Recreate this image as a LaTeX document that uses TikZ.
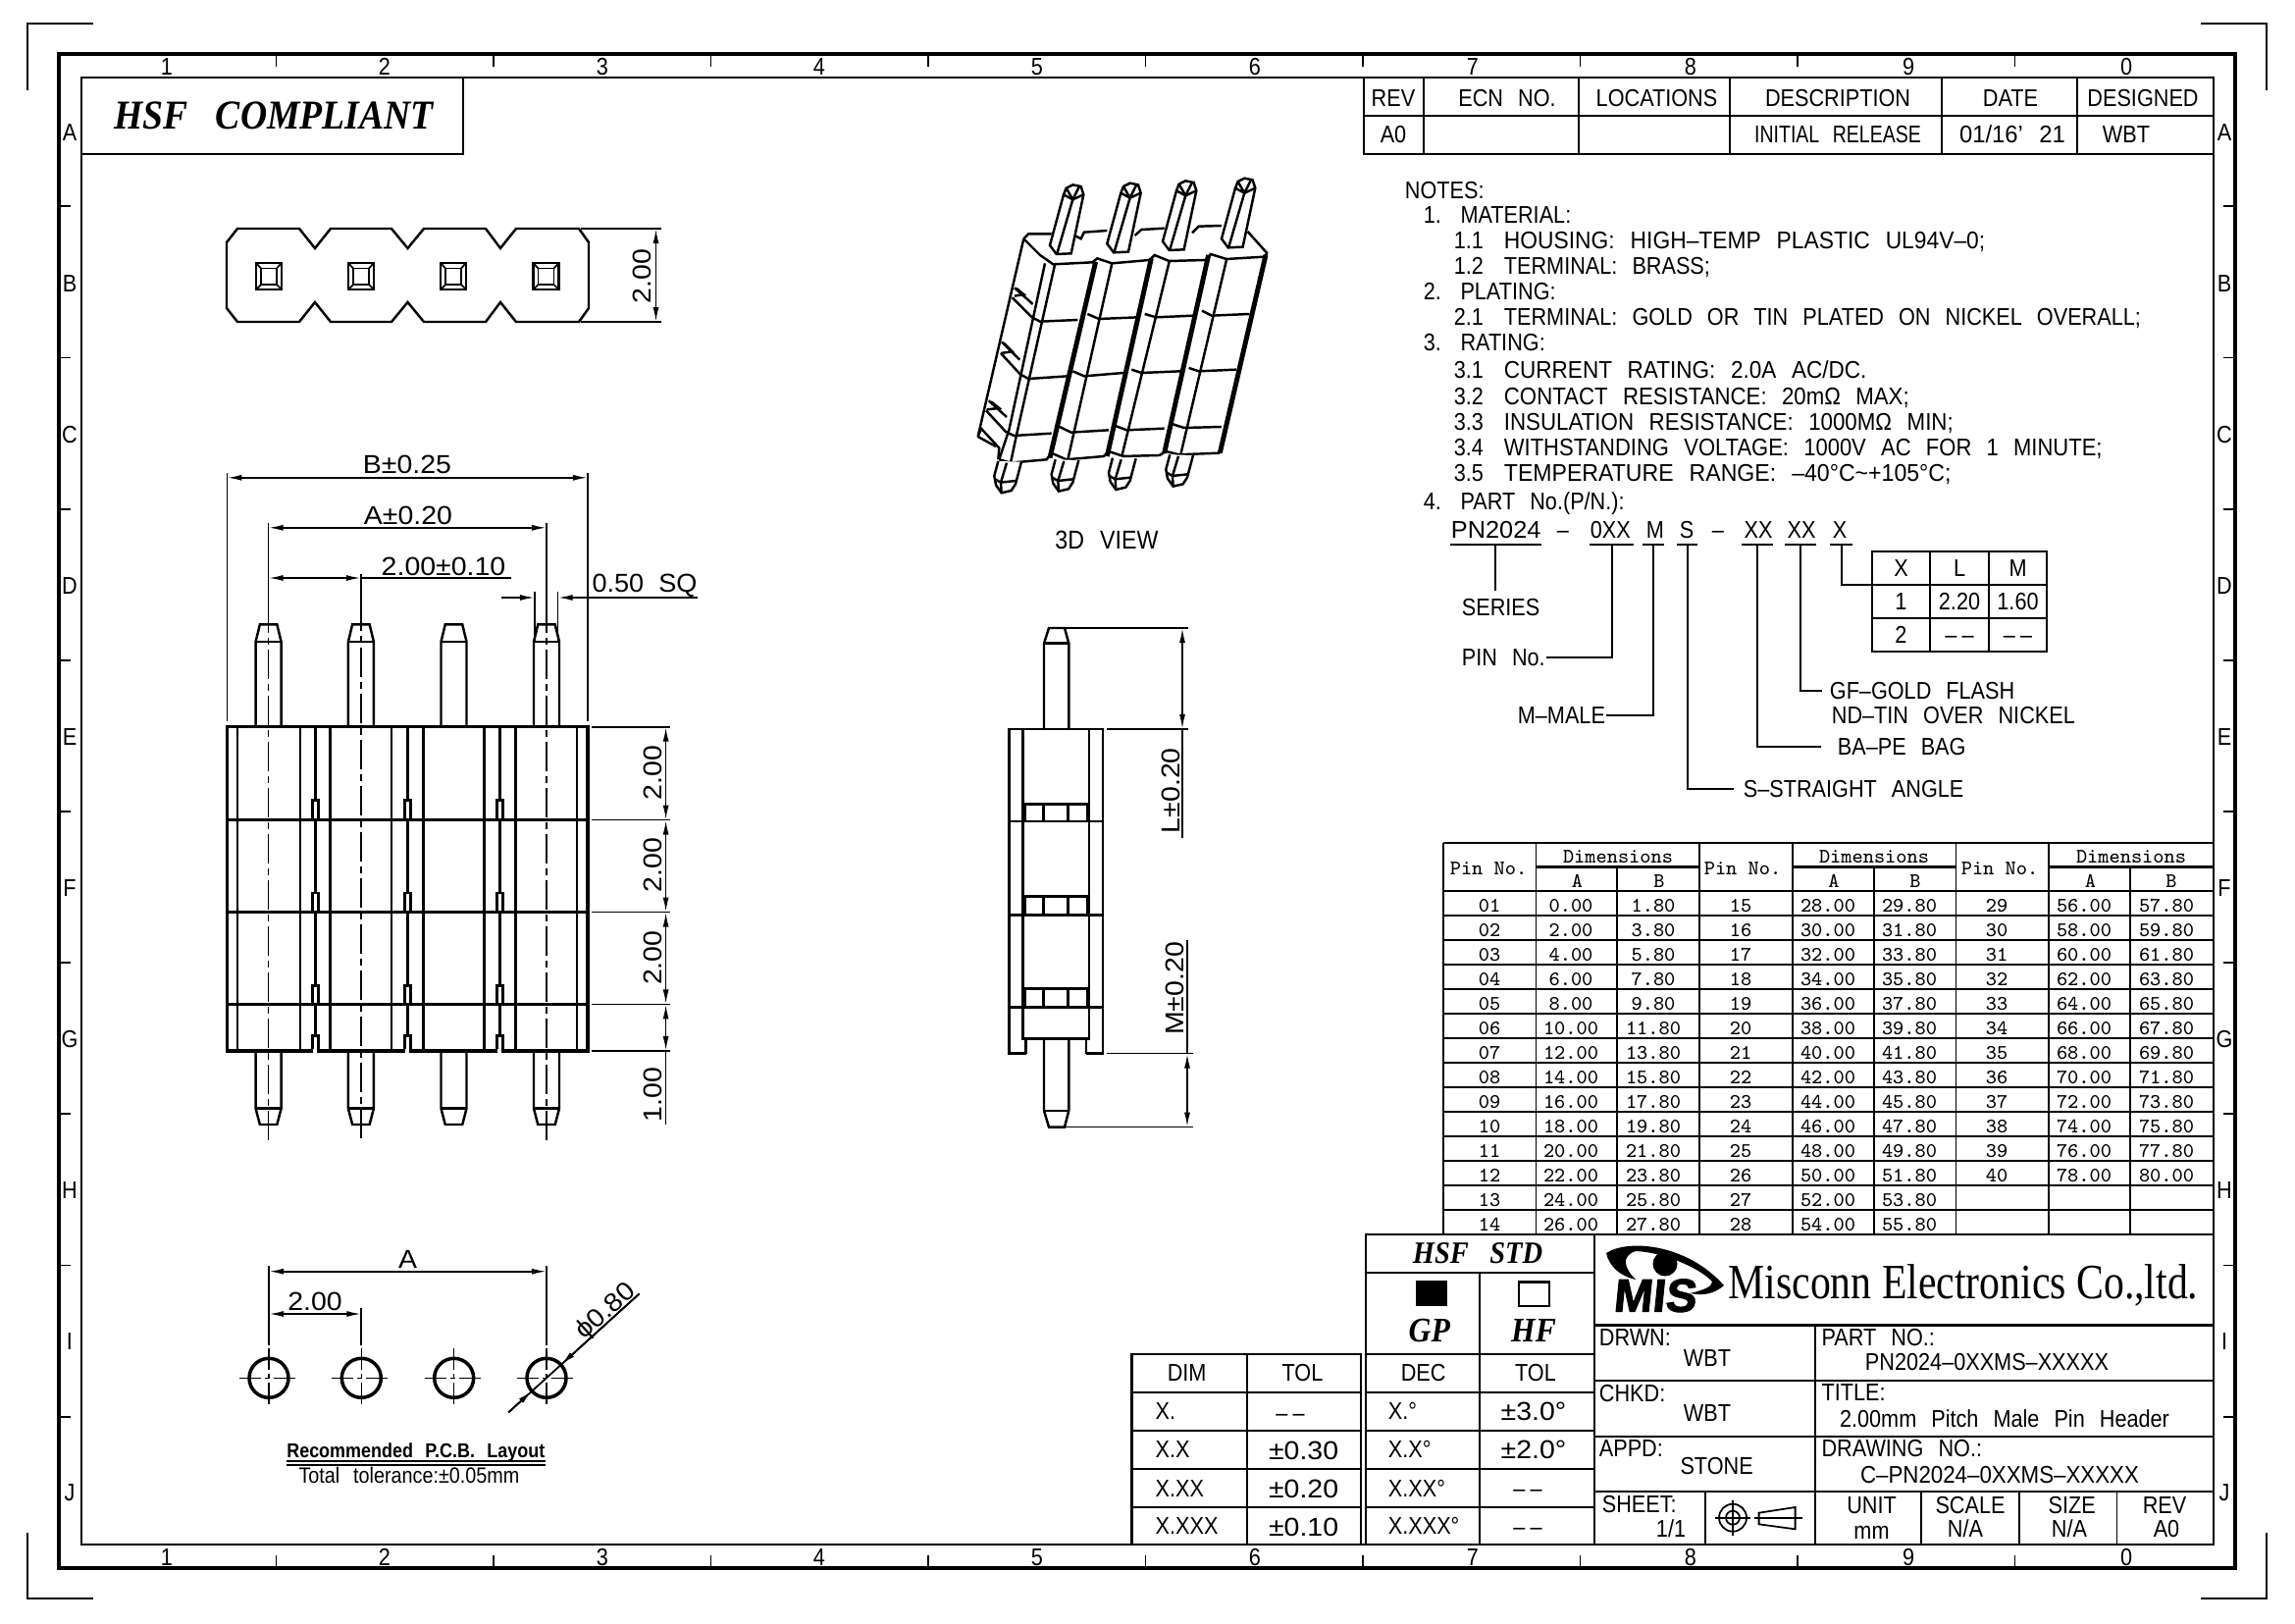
\documentclass[tikz,border=0pt]{standalone}
\usepackage{fontspec}
\usetikzlibrary{arrows.meta}
\setmainfont[FakeStretch=.88,WordSpace=2.5]{Liberation Sans}
\newfontfamily\dimfont[FakeStretch=1.08,WordSpace=2]{Liberation Sans}
\newfontfamily\hsffont[FakeStretch=.9,WordSpace=3]{Liberation Serif}
\newfontfamily\compfont[FakeStretch=.83]{Liberation Serif}
\newfontfamily\logofont[BoldFeatures={FakeBold=2,FakeSlant=.1}]{Liberation Sans}
\tikzset{>={Latex[length=1.5mm,width=.6mm]}}
\newcommand{\numbox}[2]{\makebox[#1][l]{#2}}
\newcommand{\wide}[2]{\scalebox{#1}[1]{#2}}
\newcommand{\nodash}{–\kern1.5pt–}

\begin{document}
\begin{tikzpicture}[
    x = .01cm,
    y = -.01cm,
    line width = .5pt,
    every node/.style = {inner sep = 0pt},
    txt/.style = {font = \fontsize{7}{8}\selectfont, text height = 5pt, text depth = 0pt},
    lefttxt/.style = {txt, anchor = west},
    dimtxt/.style = {font = \dimfont\fontsize{7.5}{9}\selectfont, text height = 5.4pt, text depth = 0pt},
    hsftxt/.style = {font = \hsffont\bfseries\itshape\fontsize{9}{10}\selectfont, text height = 6pt, text depth = 0pt},
    cellnum/.style = {font = \ttfamily\fontsize{6}{7}\selectfont, text height = 3.7pt, text depth = 0pt},
    outerframe/.style = {line width = 1.1pt},
    innerframe/.style = {line width = .8pt},
    body/.style = {line width = .7pt},
    heavy/.style = {line width = 1.4pt},
    rowline/.style = {line width = .8pt},
    centermark/.style = {line width = .4pt, dash pattern = on .3cm off .05cm on .07cm off .05cm},
    holemark/.style = {line width = .4pt, dash pattern = on .22cm off .04cm on .05cm off .04cm on .22cm}
  ]
    \useasboundingbox[fill = white] (0, 0) rectangle (2339, 1654);

    % sheet frame
    \draw[outerframe] (60, 55) rectangle (2278, 1598);
    \draw[innerframe] (83, 79) rectangle (2256, 1574);
    \draw (28, 92) -- (28, 24) -- (95, 24);
    \draw (2243, 24) -- (2310, 24) -- (2310, 92);
    \draw (28, 1562) -- (28, 1629) -- (95, 1629);
    \draw (2310, 1562) -- (2310, 1629) -- (2243, 1629);
    \foreach \tickx in {281.5, 503, 724.5, 946, 1167.5, 1389, 1610.5, 1832, 2053.5} {
      \draw (\tickx, 55) -- (\tickx, 68);
      \draw (\tickx, 1585) -- (\tickx, 1598);
    }
    \foreach \ticky in {210, 364.5, 518.7, 673, 827, 981, 1135, 1289.5, 1444} {
      \draw (60, \ticky) -- (72, \ticky);
      \draw (2266, \ticky) -- (2278, \ticky);
    }
    \foreach \collabel/\colx in {1/170, 2/392, 3/614, 4/835, 5/1057, 6/1279, 7/1501, 8/1723, 9/1945, 0/2167} {
      \node[txt] (top_col\collabel) at (\colx, 68) {\collabel};
      \node[txt] (bot_col\collabel) at (\colx, 1587) {\collabel};
    }
    \foreach \rowlabel/\rowy in {A/135, B/289, C/443, D/597, E/751, F/905, G/1059, H/1213, I/1367, J/1521} {
      \node[txt] (left_row\rowlabel) at (71, \rowy) {\rowlabel};
      \node[txt] (right_row\rowlabel) at (2267, \rowy) {\rowlabel};
    }

    % compliance box
    \draw[innerframe] (83, 157) -- (472, 157) -- (472, 79);
    \node[hsftxt, font = \hsffont\bfseries\itshape\fontsize{11.9}{13}\selectfont, text height = 7.7pt] (hsf_compliant) at (279, 118) {HSF COMPLIANT};

    % top view
    \draw[body] (242, 233) -- (305, 233) -- (321, 253) -- (337, 233) -- (399, 233) -- (415.5, 253) -- (432, 233) -- (495, 233) -- (510, 253) -- (526, 233) -- (590, 233) -- (600, 247) -- (600, 314) -- (590, 328) -- (526, 328) -- (510, 308) -- (495, 328) -- (432, 328) -- (415.5, 308) -- (399, 328) -- (337, 328) -- (321, 308) -- (305, 328) -- (242, 328) -- (231, 314) -- (231, 247) -- cycle;
    \foreach \pinx in {274, 368, 462, 556.5} {
      \draw[body] (\pinx-13, 268) rectangle (\pinx+13, 295);
      \draw (\pinx-8, 273.5) rectangle (\pinx+8, 290);
      \draw (\pinx-13, 268) -- (\pinx-8, 273.5) (\pinx+13, 268) -- (\pinx+8, 273.5) (\pinx-13, 295) -- (\pinx-8, 290) (\pinx+13, 295) -- (\pinx+8, 290);
    }
    \draw (592, 233) -- (674, 233);
    \draw (592, 328) -- (674, 328);
    \draw[<->] (668.5, 233) -- (668.5, 328);
    \node[dimtxt, rotate = 90] (top_pitch) at (654, 281.7) {2.00};

    % front view
    \foreach \pinx in {273.6, 367.9, 462.5, 557} {
      \draw[body] (\pinx-13, 740.7) -- (\pinx-13, 654) -- (\pinx-8.75, 636.4) -- (\pinx+8.75, 636.4) -- (\pinx+13, 654) -- (\pinx+13, 740.7);
      \draw[body] (\pinx-13, 654) -- (\pinx+13, 654);
      \draw[body] (\pinx-13, 1071) -- (\pinx-13, 1129.6) -- (\pinx-8.75, 1146) -- (\pinx+8.75, 1146) -- (\pinx+13, 1129.6) -- (\pinx+13, 1071);
      \draw[body] (\pinx-13, 1129.6) -- (\pinx+13, 1129.6);
    }
    \draw[line width = .9pt] (231.4, 740.7) rectangle (599, 1071);
    \foreach \liney in {835.6, 929.5, 1023.4} {
      \draw[body] (231.4, \liney) -- (599, \liney);
    }
    \foreach \linex in {241.8, 306, 336.4, 399, 431.4, 493.6, 525.4, 588.2} {
      \draw[body] (\linex, 740.7) -- (\linex, 1071);
    }
    \foreach \slotx in {321.4, 415.4, 509.3} {
      \foreach \segtop/\segbot in {740.7/815.7, 835.6/910, 929.5/1004.5, 1023.4/1055.5} {
        \draw[line width = 1pt] (\slotx, \segtop) -- (\slotx, \segbot);
      }
      \foreach \slottop/\slotbot in {815.7/835.6, 910/929.5, 1004.5/1023.4, 1055.5/1071} {
        \draw[body] (\slotx-3, \slotbot) -- (\slotx-3, \slottop) -- (\slotx+3, \slottop) -- (\slotx+3, \slotbot);
      }
      \draw[white, line width = 1.2pt] (\slotx-2, 1071) -- (\slotx+2, 1071);
    }
    \draw[centermark] (273.6, 615) -- (273.6, 1162);
    \draw[centermark] (367.9, 613) -- (367.9, 1165);
    \draw[centermark] (557, 615) -- (557, 1162);
    \draw (231.4, 482) -- (231.4, 735);
    \draw (599, 482) -- (599, 735);
    \draw (273.6, 532.6) -- (273.6, 615);
    \draw (557, 532.6) -- (557, 615);
    \draw (367.9, 584.5) -- (367.9, 613);
    \draw (545, 603) -- (545, 653);
    \draw (568.6, 603) -- (568.6, 653);
    \draw[<->] (231.4, 486.8) -- (599, 486.8);
    \draw[<->] (273.6, 537.8) -- (557, 537.8);
    \draw[<->] (273.6, 589) -- (367.9, 589);
    \draw (367.9, 589) -- (521, 589);
    \draw[->] (511, 609) -- (545, 609);
    \draw[->] (711, 609) -- (568.6, 609);
    \node[dimtxt] (dim_b) at (415, 472.6) {B±0.25};
    \node[dimtxt] (dim_a) at (416, 524.6) {A±0.20};
    \node[dimtxt] (dim_pitch) at (452, 576.5) {2.00±0.10};
    \node[dimtxt] (dim_square) at (657, 594) {\wide{.95}{0.50 SQ}};
    \foreach \liney in {740.7, 835.6, 929.5, 1023.4, 1071} {
      \draw (603, \liney) -- (683, \liney);
    }
    \draw[<->] (678.6, 740.7) -- (678.6, 835.6);
    \draw[<->] (678.6, 835.6) -- (678.6, 929.5);
    \draw[<->] (678.6, 929.5) -- (678.6, 1023.4);
    \draw[<->] (678.6, 1023.4) -- (678.6, 1071);
    \draw (678.6, 1071) -- (678.6, 1146);
    \node[dimtxt, rotate = 90] (height_one) at (665, 787.4) {2.00};
    \node[dimtxt, rotate = 90] (height_two) at (665, 881.8) {2.00};
    \node[dimtxt, rotate = 90] (height_three) at (665, 976.2) {2.00};
    \node[dimtxt, rotate = 90] (height_tail) at (665, 1115.4) {1.00};

    % 3D view, in a finer grid
    \begin{scope}[shift = {(960, 160)}, scale = .3333]
      \draw[body] (250, 250) -- (265, 235) -- (335, 235);
      \draw[body] (405, 240) -- (425, 250) -- (435, 230) -- (505, 225);
      \draw[body] (590, 240) -- (610, 222) -- (680, 218);
      \draw[body] (765, 232) -- (785, 212) -- (855, 210);
      \draw[body] (935, 228) -- (995, 295);
      \draw[body] (250, 250) -- (300, 300) -- (340, 328) -- (460, 322) -- (475, 310) -- (520, 325) -- (635, 315) -- (650, 300) -- (695, 318) -- (805, 315) -- (822, 297) -- (870, 312) -- (985, 305) -- (995, 295);
      \draw[body] (250, 250) -- (110, 855) -- (120, 830) -- (175, 890) -- (172, 925);
      \draw[body] (110, 855) -- (165, 885);
      \draw[body] (315, 325) -- (205, 835) -- (175, 925);
      \draw[body] (345, 330) -- (228, 850) -- (210, 935);
      \draw[heavy] (470, 320) -- (330, 920);
      \draw[body] (520, 325) -- (385, 925);
      \draw[heavy] (640, 310) -- (505, 915);
      \draw[body] (695, 320) -- (550, 915);
      \draw[heavy] (815, 300) -- (680, 905);
      \draw[body] (870, 315) -- (730, 910);
      \draw[heavy] (990, 300) -- (850, 905);
      \draw[body] (175, 925) -- (210, 935) -- (320, 925) -- (335, 905) -- (380, 925) -- (495, 915) -- (510, 900) -- (555, 915) -- (665, 912) -- (685, 900) -- (725, 910) -- (850, 905);
      % cross bars
      \draw[body] (215, 430) -- (275, 490) -- (300, 503) -- (415, 498);
      \draw[body] (445, 480) -- (480, 495) -- (600, 490);
      \draw[body] (620, 480) -- (655, 490) -- (770, 485);
      \draw[body] (795, 470) -- (825, 485) -- (940, 480);
      \draw[body] (180, 600) -- (240, 665) -- (265, 678) -- (385, 670);
      \draw[body] (400, 655) -- (435, 670) -- (555, 660);
      \draw[body] (580, 650) -- (610, 660) -- (730, 655);
      \draw[body] (755, 645) -- (785, 655) -- (900, 650);
      \draw[body] (135, 775) -- (195, 840) -- (220, 852) -- (335, 845);
      \draw[body] (360, 825) -- (395, 842) -- (510, 835);
      \draw[body] (530, 822) -- (565, 835) -- (680, 830);
      \draw[body] (700, 815) -- (740, 828) -- (855, 825);
      % side notches
      \draw[body] (222, 400) -- (278, 450) (222, 425) -- (250, 420) -- (228, 402);
      \draw[body] (183, 565) -- (238, 620) (180, 600) -- (215, 595) -- (190, 570);
      \draw[body] (143, 745) -- (198, 795) (137, 772) -- (175, 768) -- (150, 748);
      % pins
      \foreach \dx/\dy in {0/0, 175/-5, 345/-12, 525/-20} {
        \draw[body, fill = white] (330+\dx, 270+\dy) -- (372+\dx, 115+\dy) -- (380+\dx, 95+\dy) -- (400+\dx, 85+\dy) -- (425+\dx, 90+\dy) -- (433+\dx, 115+\dy) -- (395+\dx, 295+\dy) -- (350+\dx, 297+\dy) -- cycle;
        \draw[body] (372+\dx, 115+\dy) -- (400+\dx, 130+\dy) -- (433+\dx, 115+\dy);
        \draw[body] (400+\dx, 130+\dy) -- (352+\dx, 295+\dy);
        \draw[body] (380+\dx, 95+\dy) -- (400+\dx, 130+\dy) -- (420+\dx, 90+\dy);
      }
      \foreach \dx/\dy in {0/0, 175/-5, 350/-10, 525/-20} {
        \draw[body, fill = white] (172+\dx, 930+\dy) -- (160+\dx, 975+\dy) -- (165+\dx, 1003+\dy) -- (182+\dx, 1027+\dy) -- (212+\dx, 1020+\dy) -- (225+\dx, 1000+\dy) -- (243+\dx, 932+\dy);
        \draw[body] (198+\dx, 935+\dy) -- (180+\dx, 995+\dy) -- (182+\dx, 1027+\dy);
        \draw[body] (162+\dx, 985+\dy) -- (180+\dx, 995+\dy) -- (226+\dx, 990+\dy);
      }
    \end{scope}
    \node[dimtxt, font = \fontsize{7.5}{9}\selectfont] (view_label) at (1128, 550) {3D VIEW};

    % side view
    \draw[body] (1045.7, 1073.6) -- (1028.7, 1073.6) -- (1028.7, 743) -- (1124, 743) -- (1124, 1073.6) -- (1107, 1073.6);
    \draw[body] (1042.3, 743) -- (1042.3, 1058.6) -- (1110, 1058.6) -- (1110, 743);
    \draw[body] (1045.7, 1059) -- (1045.7, 1073.6);
    \draw[body] (1107, 1059) -- (1107, 1073.6);
    \foreach \liney in {836.8, 932.5, 1026.4} {
      \draw[body] (1028.7, \liney) -- (1124, \liney);
    }
    \foreach \bandtop/\bandbot in {819.3/836.8, 913.6/932.5, 1007.5/1026.4} {
      \draw[body] (1042.3, \bandtop) -- (1110, \bandtop);
      \draw[body] (1063.3, \bandtop) -- (1063.3, \bandbot);
      \draw[body] (1088.3, \bandtop) -- (1088.3, \bandbot);
      \fill (1042.3, \bandtop) rectangle (1046, \bandbot);
      \fill (1106.5, \bandtop) rectangle (1110, \bandbot);
    }
    \draw[body] (1064, 743) -- (1064, 655.7) -- (1069, 640) -- (1085, 640) -- (1089.3, 655.7) -- (1089.3, 743);
    \draw[body] (1064, 655.7) -- (1089.3, 655.7);
    \draw[body] (1064, 1058.6) -- (1064, 1131.8) -- (1069, 1148.6) -- (1085, 1148.6) -- (1089.3, 1131.8) -- (1089.3, 1058.6);
    \draw[body] (1064, 1131.8) -- (1089.3, 1131.8);
    \draw (1086, 640) -- (1210.7, 640);
    \draw (1128, 743) -- (1210.7, 743);
    \draw (1128, 1073.6) -- (1215.7, 1073.6);
    \draw (1086, 1148.6) -- (1215.7, 1148.6);
    \draw[<->] (1205, 640) -- (1205, 743);
    \draw (1205, 743) -- (1205, 854);
    \draw[<->] (1210, 1073.6) -- (1210, 1148.6);
    \draw (1210, 1073.6) -- (1210, 957.5);
    \node[dimtxt, rotate = 90] (dim_l) at (1192.7, 805.7) {L±0.20};
    \node[dimtxt, rotate = 90] (dim_m) at (1196.7, 1007.5) {M±0.20};

    % recommended layout
    \foreach \holex in {274, 368.3, 462.7, 557} {
      \draw[line width = 1pt] (\holex, 1404.3) circle (20);
      \draw[holemark] (\holex-30, 1404.3) -- (\holex+30, 1404.3);
      \draw[holemark] (\holex, 1374.3) -- (\holex, 1434.3);
    }
    \draw (274, 1290) -- (274, 1370.7);
    \draw (557, 1290) -- (557, 1370.7);
    \draw (368.3, 1333) -- (368.3, 1370.7);
    \draw[<->] (274, 1295.7) -- (557, 1295.7);
    \draw[<->] (274, 1339) -- (368.3, 1339);
    \draw (518.3, 1439.3) -- (651.7, 1318.3);
    \draw[->] (651.7, 1318.3) -- (571.8, 1390.6);
    \draw[->] (518.3, 1439.3) -- (542.2, 1417.4);
    \node[dimtxt] (layout_a) at (415.7, 1283) {A};
    \node[dimtxt] (layout_pitch) at (321, 1326) {2.00};
    \node[dimtxt, rotate = 42] (layout_hole) at (616, 1335) {ϕ0.80};
    \node[txt, font = \bfseries\fontsize{5.8}{7}\selectfont] (layout_title) at (423.8, 1477) {Recommended P.C.B. Layout};
    \draw (291.7, 1489) -- (556, 1489);
    \draw (291.7, 1493) -- (556, 1493);
    \node[txt, font = \fontsize{6.4}{7}\selectfont] (layout_tol) at (417, 1503) {Total tolerance:±0.05mm};

    % revision block
    \draw[innerframe] (1390, 79) -- (1390, 157) -- (2256, 157);
    \draw (1390, 118) -- (2256, 118);
    \foreach \linex in {1451, 1609, 1763, 1979, 2117} {
      \draw (\linex, 79) -- (\linex, 157);
    }
    \node[txt] (rev_head) at (1420, 100) {REV};
    \node[txt] (ecn_head) at (1536, 100) {ECN NO.};
    \node[txt] (loc_head) at (1688.5, 100) {LOCATIONS};
    \node[txt] (desc_head) at (1873, 100) {DESCRIPTION};
    \node[txt] (date_head) at (2049, 100) {DATE};
    \node[txt] (designed_head) at (2184, 100) {DESIGNED};
    \node[txt] (rev_value) at (1420, 137) {A0};
    \node[txt] (desc_value) at (1873, 137) {\wide{.9}{INITIAL RELEASE}};
    \node[txt] (date_value) at (2051, 137) {\wide{1.1}{01/16' 21}};
    \node[txt] (designed_value) at (2167, 137) {WBT};

    % notes
    \node[lefttxt] (notes) at (1431, 194) {NOTES:};
    \node[lefttxt] (note_one) at (1450, 219) {\numbox{.376cm}{1.}MATERIAL:};
    \node[lefttxt] (note_one_one) at (1481, 245) {\numbox{.51cm}{1.1}\wide{1.054}{HOUSING: HIGH–TEMP PLASTIC UL94V–0;}};
    \node[lefttxt] (note_one_two) at (1481, 271) {\numbox{.51cm}{1.2}TERMINAL: BRASS;};
    \node[lefttxt] (note_two) at (1450, 297) {\numbox{.376cm}{2.}PLATING:};
    \node[lefttxt] (note_two_one) at (1481, 323) {\numbox{.51cm}{2.1}TERMINAL: GOLD OR TIN PLATED ON NICKEL OVERALL;};
    \node[lefttxt] (note_three) at (1450, 349) {\numbox{.376cm}{3.}RATING:};
    \node[lefttxt] (note_three_one) at (1481, 377) {\numbox{.51cm}{3.1}\wide{1.04}{CURRENT RATING: 2.0A AC/DC.}};
    \node[lefttxt] (note_three_two) at (1481, 404) {\numbox{.51cm}{3.2}\wide{1.026}{CONTACT RESISTANCE: 20mΩ MAX;}};
    \node[lefttxt] (note_three_three) at (1481, 430) {\numbox{.51cm}{3.3}\wide{1.03}{INSULATION RESISTANCE: 1000MΩ MIN;}};
    \node[lefttxt] (note_three_four) at (1481, 456) {\numbox{.51cm}{3.4}\wide{1.015}{WITHSTANDING VOLTAGE: 1000V AC FOR 1 MINUTE;}};
    \node[lefttxt] (note_three_five) at (1481, 482) {\numbox{.51cm}{3.5}\wide{1.066}{TEMPERATURE RANGE: –40°C\textasciitilde+105°C;}};
    \node[lefttxt] (note_four) at (1450, 511) {\numbox{.376cm}{4.}PART No.(P/N.):};

    % part number key
    \node[lefttxt] (key_series) at (1478, 540) {\wide{1.17}{PN2024}};
    \node[txt] (key_dash_one) at (1593, 540) {–};
    \node[lefttxt] (key_pins) at (1620, 540) {0XX};
    \node[txt] (key_male) at (1687, 540) {M};
    \node[txt] (key_straight) at (1719, 540) {S};
    \node[txt] (key_dash_two) at (1751, 540) {–};
    \node[txt] (key_bag) at (1792, 540) {XX};
    \node[txt] (key_plate) at (1836, 540) {XX};
    \node[txt] (key_length) at (1875, 540) {X};
    \draw (1478, 555) -- (1571, 555);
    \draw (1620, 555) -- (1665, 555);
    \draw (1674, 555) -- (1696, 555);
    \draw (1709, 555) -- (1730, 555);
    \draw (1775, 555) -- (1807, 555);
    \draw (1819, 555) -- (1851, 555);
    \draw (1865, 555) -- (1888, 555);
    \node[lefttxt] (series_label) at (1489, 619) {SERIES};
    \node[lefttxt] (pin_label) at (1489, 670) {PIN No.};
    \node[lefttxt] (male_label) at (1546, 729) {M–MALE};
    \node[lefttxt] (straight_label) at (1776, 804) {S–STRAIGHT ANGLE};
    \node[lefttxt] (bag_label) at (1872, 761) {BA–PE BAG};
    \node[lefttxt] (flash_label) at (1864, 704) {GF–GOLD FLASH};
    \node[lefttxt] (tin_label) at (1866, 729) {ND–TIN OVER NICKEL};
    \draw (1524, 555) -- (1524, 602);
    \draw (1643, 555) |- (pin_label.east);
    \draw (1685, 555) |- (male_label.east);
    \draw (1720, 555) |- ([xshift = -.09cm]straight_label.west);
    \draw (1791, 555) |- ([xshift = -.16cm]bag_label.west);
    \draw (1835, 555) |- ([xshift = -.07cm]flash_label.west);
    \draw[body] (1908, 562) rectangle (2086, 664);
    \draw (1908, 596) -- (2086, 596);
    \draw (1908, 630) -- (2086, 630);
    \draw (1967, 562) -- (1967, 664);
    \draw (2027, 562) -- (2027, 664);
    \draw (1877, 555) |- (1908, 596);
    \node[txt] (xl_x) at (1937.5, 579) {X};
    \node[txt] (xl_l) at (1997, 579) {L};
    \node[txt] (xl_m) at (2056.5, 579) {M};
    \node[txt] (xl_one) at (1937.5, 613) {1};
    \node[txt] (xl_oneL) at (1997, 613) {2.20};
    \node[txt] (xl_oneM) at (2056.5, 613) {1.60};
    \node[txt] (xl_two) at (1937.5, 647) {2};
    \node[txt] (xl_twoL) at (1997, 647) {\nodash};
    \node[txt] (xl_twoM) at (2056.5, 647) {\nodash};

    % pin table
    \draw (1471, 859) -- (2256, 859);
    \draw (1471, 859) -- (1471, 1258);
    \foreach \rowy in {908, 933, ..., 1258} {
      \draw[rowline] (1471, \rowy) -- (2256, \rowy);
    }
    \foreach \linex in {1565.6, 1732, 1827, 1993.5, 2087.6} {
      \draw (\linex, 859) -- (\linex, 1258);
    }
    \foreach \linex in {1648.3, 1910, 2171} {
      \draw (\linex, 883.3) -- (\linex, 1258);
    }
    \draw[rowline] (1565.6, 883.3) -- (1732, 883.3);
    \draw[rowline] (1827, 883.3) -- (1993.5, 883.3);
    \draw[rowline] (2087.6, 883.3) -- (2256, 883.3);
    \foreach \tabn/\pinx/\dimx/\ax/\bx in {a/1517/1649/1607.5/1691, b/1776/1910/1869/1952, c/2038/2172/2130.5/2213} {
      \node[cellnum] (pin_head\tabn) at (\pinx, 885) {Pin No.};
      \node[cellnum] (dim_head\tabn) at (\dimx, 873) {Dimensions};
      \node[cellnum] (a_head\tabn) at (\ax, 898) {A};
      \node[cellnum] (b_head\tabn) at (\bx, 898) {B};
    }
    \foreach \pn/\da/\db [count = \i from 0] in {01/0.00/1.80, 02/2.00/3.80, 03/4.00/5.80, 04/6.00/7.80, 05/8.00/9.80, 06/10.00/11.80, 07/12.00/13.80, 08/14.00/15.80, 09/16.00/17.80, 10/18.00/19.80, 11/20.00/21.80, 12/22.00/23.80, 13/24.00/25.80, 14/26.00/27.80} {
      \node[cellnum] (pin\pn) at (1518, 923+25*\i) {\pn};
      \node[cellnum] (dima\pn) at (1601, 923+25*\i) {\da};
      \node[cellnum] (dimb\pn) at (1685, 923+25*\i) {\db};
    }
    \foreach \pn/\da/\db [count = \i from 0] in {15/28.00/29.80, 16/30.00/31.80, 17/32.00/33.80, 18/34.00/35.80, 19/36.00/37.80, 20/38.00/39.80, 21/40.00/41.80, 22/42.00/43.80, 23/44.00/45.80, 24/46.00/47.80, 25/48.00/49.80, 26/50.00/51.80, 27/52.00/53.80, 28/54.00/55.80} {
      \node[cellnum] (pin\pn) at (1774, 923+25*\i) {\pn};
      \node[cellnum] (dima\pn) at (1863, 923+25*\i) {\da};
      \node[cellnum] (dimb\pn) at (1946, 923+25*\i) {\db};
    }
    \foreach \pn/\da/\db [count = \i from 0] in {29/56.00/57.80, 30/58.00/59.80, 31/60.00/61.80, 32/62.00/63.80, 33/64.00/65.80, 34/66.00/67.80, 35/68.00/69.80, 36/70.00/71.80, 37/72.00/73.80, 38/74.00/75.80, 39/76.00/77.80, 40/78.00/80.00} {
      \node[cellnum] (pin\pn) at (2035, 923+25*\i) {\pn};
      \node[cellnum] (dima\pn) at (2124, 923+25*\i) {\da};
      \node[cellnum] (dimb\pn) at (2208, 923+25*\i) {\db};
    }

    % tolerance tables
    \draw[body] (1153.6, 1574) -- (1153.6, 1380) -- (1387, 1380) -- (1387, 1574);
    \draw (1271, 1380) -- (1271, 1574);
    \draw[body] (1391.8, 1574) -- (1391.8, 1258) -- (1625, 1258);
    \draw (1507.9, 1296.7) -- (1507.9, 1574);
    \draw (1391.8, 1296.7) -- (1625, 1296.7);
    \draw (1391.8, 1380) -- (1625, 1380);
    \foreach \rowy in {1418.7, 1457.7, 1496.7, 1535.7} {
      \draw (1153.6, \rowy) -- (1387, \rowy);
      \draw (1391.8, \rowy) -- (1625, \rowy);
    }
    \node[hsftxt] (hsf_std) at (1506, 1277) {HSF STD};
    \node[hsftxt, font = \hsffont\bfseries\itshape\fontsize{10}{11}\selectfont] (hsf_gp) at (1456.8, 1356.7) {GP};
    \node[hsftxt, font = \hsffont\bfseries\itshape\fontsize{10}{11}\selectfont] (hsf_hf) at (1563, 1356.7) {HF};
    \fill (1442.5, 1305) rectangle (1475, 1331);
    \draw[body] (1548, 1306.7) rectangle (1579, 1331);
    \node[txt] (dim_head) at (1209.6, 1399) {DIM};
    \node[txt] (tol_head) at (1327.5, 1399) {TOL};
    \node[txt] (dec_head) at (1450.7, 1399) {DEC};
    \node[txt] (tolb_head) at (1565, 1399) {TOL};
    \node[lefttxt] (dim_one) at (1176.8, 1438) {X.};
    \node[lefttxt] (dim_two) at (1176.8, 1476.7) {X.X};
    \node[lefttxt] (dim_three) at (1176.8, 1516.7) {X.XX};
    \node[lefttxt] (dim_four) at (1176.8, 1555) {X.XXX};
    \node[txt] (tol_one) at (1315, 1440) {\nodash};
    \node[dimtxt] (tol_two) at (1328.6, 1478) {±0.30};
    \node[dimtxt] (tol_three) at (1328.6, 1517) {±0.20};
    \node[dimtxt] (tol_four) at (1328.6, 1556) {±0.10};
    \node[lefttxt] (dec_one) at (1414, 1438) {X.°};
    \node[lefttxt] (dec_two) at (1414, 1476.7) {X.X°};
    \node[lefttxt] (dec_three) at (1414, 1516.7) {X.XX°};
    \node[lefttxt] (dec_four) at (1414, 1555) {X.XXX°};
    \node[dimtxt] (tolb_one) at (1563, 1438) {±3.0°};
    \node[dimtxt] (tolb_two) at (1563, 1476.7) {±2.0°};
    \node[txt] (tolb_three) at (1557, 1516.7) {\nodash};
    \node[txt] (tolb_four) at (1557, 1556) {\nodash};

    % title block
    \draw[body] (1625, 1258) -- (2256, 1258);
    \draw[body] (1625, 1258) -- (1625, 1574);
    \draw[body] (1625, 1350.7) -- (2256, 1350.7);
    \draw (1625, 1406.7) -- (2256, 1406.7);
    \draw (1625, 1464) -- (2256, 1464);
    \draw (1625, 1520) -- (2256, 1520);
    \draw (1850, 1350.7) -- (1850, 1574);
    \foreach \linex in {1737.8, 1958, 2057.7, 2157.5} {
      \draw (\linex, 1520) -- (\linex, 1574);
    }
    \fill (1637, 1277) .. controls (1660, 1262) and (1720, 1268) .. (1757, 1310) .. controls (1745, 1320) and (1735, 1320) .. (1722, 1318) .. controls (1740, 1314) and (1745, 1310) .. (1745, 1306) .. controls (1732, 1292) and (1695, 1276) .. (1667, 1275) .. controls (1652, 1280) and (1655, 1292) .. (1667, 1304) .. controls (1650, 1300) and (1640, 1290) .. (1637, 1277);
    \fill (1697, 1288) circle (12.5);
    \node[txt, font = \logofont\bfseries\fontsize{13.5}{15}\selectfont, text height = 9.5pt] (logo_mis) at (1686, 1320) {MIS};
    \node[txt, font = \compfont\fontsize{14.3}{16}\selectfont, text height = 9.5pt] (company) at (2001, 1307) {Misconn Electronics Co.,ltd.};
    \node[lefttxt] (drwn_label) at (1629, 1362.7) {DRWN:};
    \node[txt] (drwn_value) at (1740, 1384) {WBT};
    \node[lefttxt] (chkd_label) at (1629, 1419.3) {CHKD:};
    \node[txt] (chkd_value) at (1740, 1440) {WBT};
    \node[lefttxt] (appd_label) at (1629, 1476) {APPD:};
    \node[txt] (appd_value) at (1749.6, 1494) {STONE};
    \node[lefttxt] (sheet_label) at (1632, 1533) {SHEET:};
    \node[txt] (sheet_value) at (1703, 1557.7) {1/1};
    \draw (1766, 1546.7) circle (14);
    \draw (1766, 1546.7) circle (7);
    \draw (1748, 1546.7) -- (1784, 1546.7);
    \draw (1766, 1528.7) -- (1766, 1564.7);
    \draw (1792.6, 1541.7) -- (1829.6, 1536) -- (1829.6, 1558.3) -- (1792.6, 1553.3) -- cycle;
    \draw (1788, 1546.7) -- (1836.7, 1546.7);
    \node[lefttxt] (part_label) at (1855.7, 1362.7) {PART NO.:};
    \node[txt] (part_value) at (2025, 1388) {PN2024–0XXMS–XXXXX};
    \node[lefttxt] (title_label) at (1855.7, 1419) {TITLE:};
    \node[txt] (title_value) at (2043, 1445.7) {2.00mm Pitch Male Pin Header};
    \node[lefttxt] (drawing_label) at (1855.7, 1476) {DRAWING NO.:};
    \node[txt] (drawing_value) at (2038, 1503) {\wide{1.03}{C–PN2024–0XXMS–XXXXX}};
    \node[txt] (unit_label) at (1907.5, 1534) {UNIT};
    \node[txt] (unit_value) at (1907.5, 1560) {mm};
    \node[txt] (scale_label) at (2008, 1534) {SCALE};
    \node[txt] (scale_value) at (2003, 1558) {N/A};
    \node[txt] (size_label) at (2111.6, 1534) {SIZE};
    \node[txt] (size_value) at (2109, 1558) {N/A};
    \node[txt] (revb_label) at (2206, 1534) {REV};
    \node[txt] (revb_value) at (2208, 1558) {A0};
  \end{tikzpicture}
\end{document}
